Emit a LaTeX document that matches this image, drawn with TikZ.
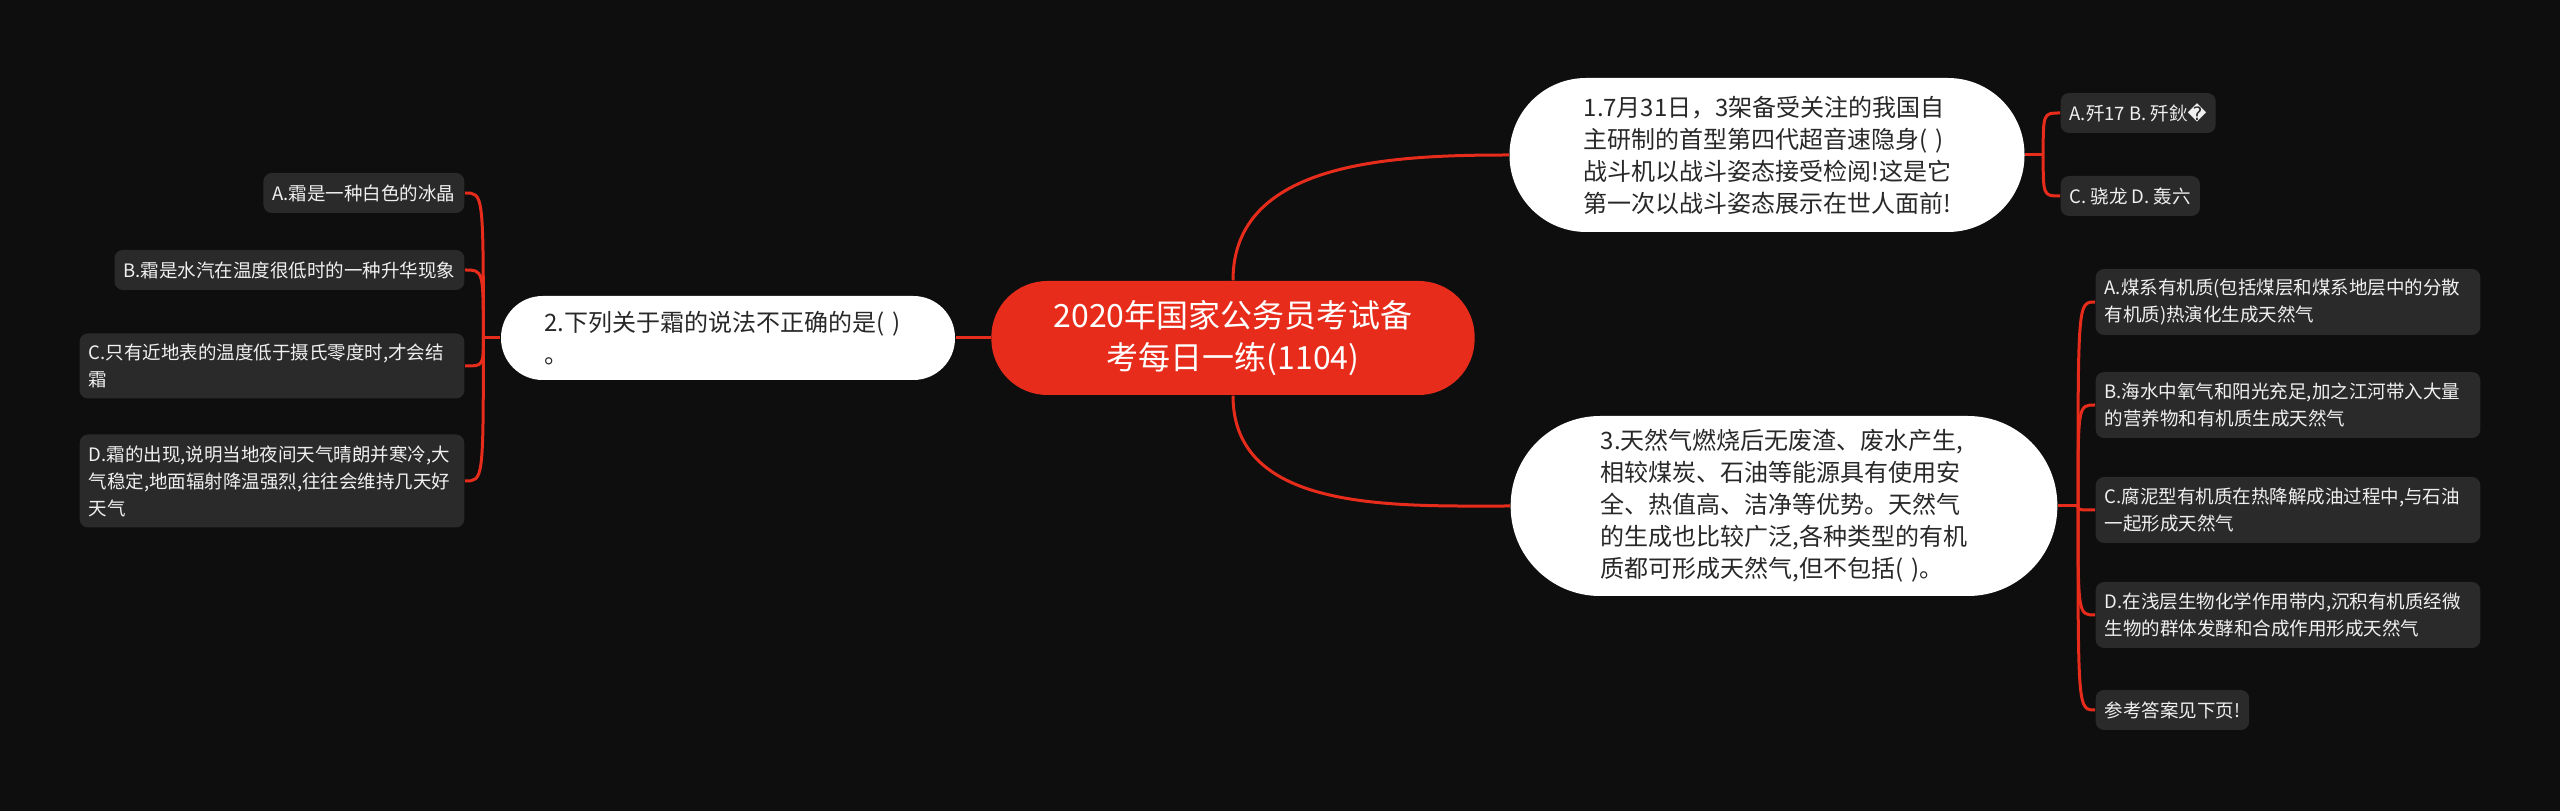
\documentclass[tikz,border=0pt]{standalone}
\usepackage{fontspec}
\setmainfont{Noto Sans CJK SC}
\newfontfamily\symfont{DejaVu Sans}
\usepackage{tikz}
\usetikzlibrary{calc}
\definecolor{bgdark}{RGB}{14,14,14}
\definecolor{mmred}{RGB}{232,44,28}
\definecolor{optfill}{RGB}{42,42,42}
\definecolor{ink}{RGB}{40,40,40}
\tikzset{
  hub/.style={
    fill=mmred, text=white, rounded corners=16.8pt,
    minimum width=145pt, minimum height=34.2pt,
    align=center, font=\fontsize{9.6}{12.6}\selectfont, inner sep=0pt,
  },
  topic/.style={
    fill=white, text=ink, align=left, inner sep=0pt,
    text width=110pt, font=\fontsize{7.2}{9.6}\selectfont,
  },
  opt/.style={
    fill=optfill, text=white!94!black, rounded corners=2.5pt,
    align=left, inner xsep=2.7pt, inner ysep=1pt, minimum height=12pt,
    font=\fontsize{5.55}{8.1}\selectfont,
  },
  optwide/.style={opt, text width=110pt},
  link/.style={draw=mmred, line width=0.9pt},
}
\begin{document}
\begin{tikzpicture}[x=0.3pt,y=-0.3pt]
  \fill[bgdark] (0,0) rectangle (2560,811);
  \useasboundingbox (0,0) rectangle (2560,811);

  % Hub and topic nodes
  \node[hub] (hub) at (1233,338) {2020年国家公务员考试备\\考每日一练(1104)};
  \node[topic, minimum width=154.5pt, minimum height=46.2pt, rounded corners=23pt] (q1) at (1767,155)
    {1.7月31日，3架备受关注的我国自\\主研制的首型第四代超音速隐身( )\\战斗机以战斗姿态接受检阅!这是它\\第一次以战斗姿态展示在世人面前!};
  \node[topic, minimum width=136.2pt, minimum height=25.2pt, rounded corners=12.5pt] (q2) at (728,338)
    {2.下列关于霜的说法不正确的是( )\\。};
  \node[topic, minimum width=164pt, minimum height=54pt, rounded corners=26.8pt] (q3) at (1784,506)
    {3.天然气燃烧后无废渣、废水产生,\\相较煤炭、石油等能源具有使用安\\全、热值高、洁净等优势。天然气\\的生成也比较广泛,各种类型的有机\\质都可形成天然气,但不包括( )。};

  % Options of question 1
  \node[opt, anchor=west] (q1a) at (2060,113) {A.歼17 B. 歼鈥{\symfont �}};
  \node[opt, anchor=west] (q1b) at (2060,196) {C. 骁龙 D. 轰六};

  % Options of question 2
  \node[opt, anchor=east] (q2a) at (465,193) {A.霜是一种白色的冰晶};
  \node[opt, anchor=east] (q2b) at (465,270) {B.霜是水汽在温度很低时的一种升华现象};
  \node[optwide, anchor=east, minimum height=19.5pt] (q2c) at (465,366)
    {C.只有近地表的温度低于摄氏零度时,才会结\\霜};
  \node[optwide, anchor=east, minimum height=27.9pt] (q2d) at (465,481)
    {D.霜的出现,说明当地夜间天气晴朗并寒冷,大\\气稳定,地面辐射降温强烈,往往会维持几天好\\天气};

  % Options of question 3
  \node[optwide, anchor=west, minimum height=19.8pt] (q3a) at (2095,302)
    {A.煤系有机质(包括煤层和煤系地层中的分散\\有机质)热演化生成天然气};
  \node[optwide, anchor=west, minimum height=19.8pt] (q3b) at (2095,405)
    {B.海水中氧气和阳光充足,加之江河带入大量\\的营养物和有机质生成天然气};
  \node[optwide, anchor=west, minimum height=19.8pt] (q3c) at (2095,510)
    {C.腐泥型有机质在热降解成油过程中,与石油\\一起形成天然气};
  \node[optwide, anchor=west, minimum height=19.8pt] (q3d) at (2095,615)
    {D.在浅层生物化学作用带内,沉积有机质经微\\生物的群体发酵和合成作用形成天然气};
  \node[opt, anchor=west] (q3e) at (2095,710) {参考答案见下页!};

  % Main branches
  \draw[link] (hub.north) to[out=90,in=180] (q1.west);
  \draw[link] (hub.south) to[out=-90,in=180] (q3.west);
  \draw[link] (hub.west) -- (q2.east);

  % Sub branches
  \draw[link] (q1.east) -- ++(18,0) coordinate (j1);
  \foreach \c in {q1a,q1b}
    \draw[link] (j1) .. controls (j1 |- \c.west) .. (\c.west);
  \draw[link] (q2.west) -- ++(-17,0) coordinate (j2);
  \foreach \c in {q2a,q2b,q2c,q2d}
    \draw[link] (j2) .. controls (j2 |- \c.east) .. (\c.east);
  \draw[link] (q3.east) -- ++(20,0) coordinate (j3);
  \foreach \c in {q3a,q3b,q3c,q3d,q3e}
    \draw[link] (j3) .. controls (j3 |- \c.west) .. (\c.west);
\end{tikzpicture}
\end{document}
